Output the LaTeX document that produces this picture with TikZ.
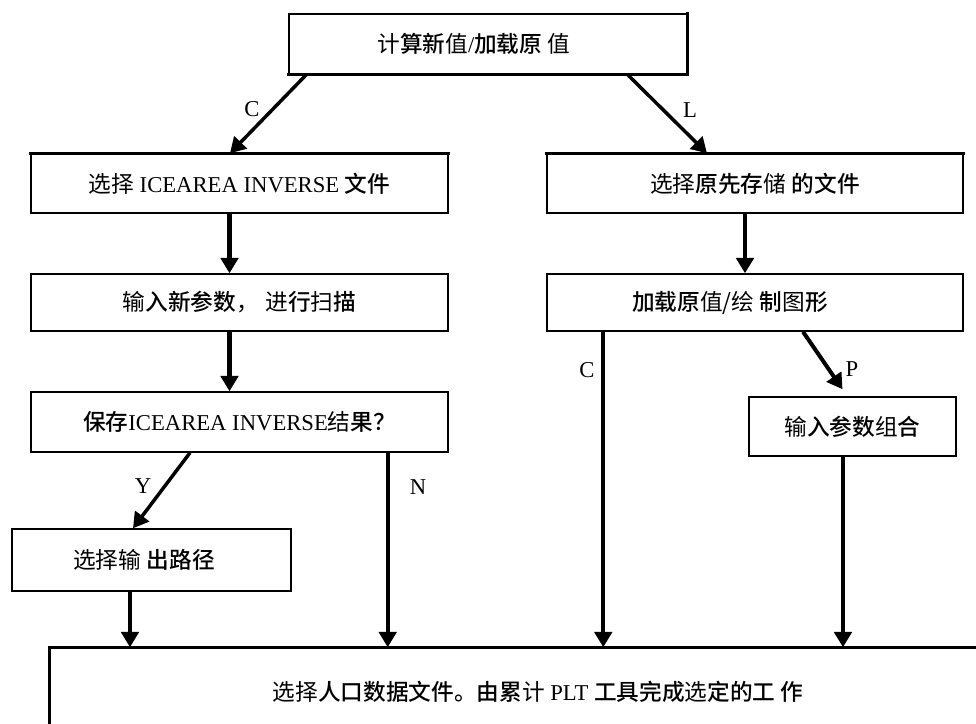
\documentclass[tikz,border=0pt]{standalone}
\usepackage{fontspec}
\setmainfont{Liberation Serif}
\newfontfamily\cjk{Noto Sans CJK SC}
\newfontfamily\cjkb{Noto Sans CJK SC Medium}
\newcommand\hz[1]{{\cjkb #1}}
\newcommand\lz[1]{{\cjk #1}}
\usetikzlibrary{arrows.meta,calc}
\tikzset{
  wh/.style 2 args={minimum width=#1*0.75pt, minimum height=#2*0.75pt},
  box/.style={draw, line width=1.1pt, inner sep=0pt, font=\fontsize{17}{20}\selectfont},
  txt/.style={inner sep=0pt, font=\fontsize{17}{20}\selectfont},
  flow/.style={line width=3.2pt, -{Triangle[length=11.5pt,width=13pt]}},
  diag/.style={line width=2.6pt, -{Triangle[length=11.5pt,width=13pt]}},
  heavy/.style={line width=2.6pt, line cap=rect},
  lbl/.style={font=\fontsize{17}{20}\selectfont, inner sep=0pt}
}
\begin{document}
\begin{tikzpicture}[x=0.75pt,y=-0.75pt]
\useasboundingbox (0,0) rectangle (976,724);
\clip (0,0) rectangle (976,724);

% boxes
\node[box, wh={398}{60}] (top) at (488,44) {};
\node[txt] (topt) at (474,44) {\lz{计}\hz{算新}\lz{值}/\hz{加载原} \lz{值}};
\node[box, wh={417}{59}] (b1) at (239.5,183.5) {\lz{选择} ICEAREA INVERSE \hz{文件}};
\node[box, wh={417}{57}] (b2) at (239.5,302.5) {\lz{输}\hz{入新参数}\lz{，\hspace{0.3em}进}\hz{行}\lz{扫}\hz{描}};
\node[box, wh={417}{60}] (b3) at (239.5,422) {\hz{保存}ICEAREA INVERSE\lz{结}\hz{果？}};
\node[box, wh={279}{62}] (out) at (151.5,560) {};
\node[txt] (outt) at (144,560) {\lz{选择输} \hz{出路径}};
\node[box, wh={416}{59}] (r1) at (755,183.5) {\lz{选择}\hz{原先存}\lz{储} \hz{的文件}};
\node[box, wh={416}{57}] (r2) at (755,302.5) {};
\node[txt] (r2t) at (730,302.5) {\hz{加载原}\lz{值/绘} \hz{制}\lz{图}\hz{形}};
\node[box, wh={207}{59}] (p) at (852.5,426.5) {\lz{输}\hz{入参数}\lz{组}\hz{合}};
\node[box, wh={960}{112}] (bot) at (530,704) {};
\node[txt] (bott) at (538,692) {\lz{选择}\hz{人口数据文件。由累}\lz{计} PLT \hz{工具完成}\lz{选}\hz{定的工 作}};

% heavier edges
\draw[heavy] (top.south west) -- (top.south east) -- (top.north east);
\draw[heavy] (b1.north west) -- (b1.north east);
\draw[heavy] (r1.north west) -- (r1.north east);
\draw[heavy] (bot.south west) -- (bot.north west) -- (bot.north east);

% connectors
\draw[diag] ($(top.south west)+(18,0)$) -- ($(b1.north)+(-9.5,0)$);
\draw[diag] ($(top.south east)+(-60,0)$) -- ($(r1.north)+(-48,0)$);
\draw[flow] ($(b1.south)+(-10,0)$) -- ($(b2.north)+(-10,0)$);
\draw[flow] ($(b2.south)+(-10,0)$) -- ($(b3.north)+(-10,0)$);
\draw[diag] ($(b3.south)+(-49.5,0)$) -- ($(out.north)+(-18.5,0)$);
\coordinate (outs) at ($(out.south)+(-21.5,0)$);
\draw[flow] (outs) -- (outs |- bot.north);
\coordinate (ns) at ($(b3.south east)+(-61,0)$);
\draw[flow] (ns) -- (ns |- bot.north);
\draw[flow] ($(r1.south)+(-10,0)$) -- ($(r2.north)+(-10,0)$);
\coordinate (cs) at ($(r2.south west)+(57,0)$);
\draw[flow] (cs) -- (cs |- bot.north);
\draw[diag, line width=3pt] ($(r2.south)+(48,0)$) -- ($(p.north)+(-10,-7)$);
\coordinate (ps) at ($(p.south)+(-9.5,0)$);
\draw[flow] (ps) -- (ps |- bot.north);

% labels
\node[lbl] (lc1) at (252,109) {C};
\node[lbl] (ll) at (690,110) {L};
\node[lbl] (ly) at (143,486) {Y};
\node[lbl] (ln) at (418,487) {N};
\node[lbl] (lc2) at (587,370) {C};
\node[lbl] (lp) at (852,369) {P};
\end{tikzpicture}
\end{document}
